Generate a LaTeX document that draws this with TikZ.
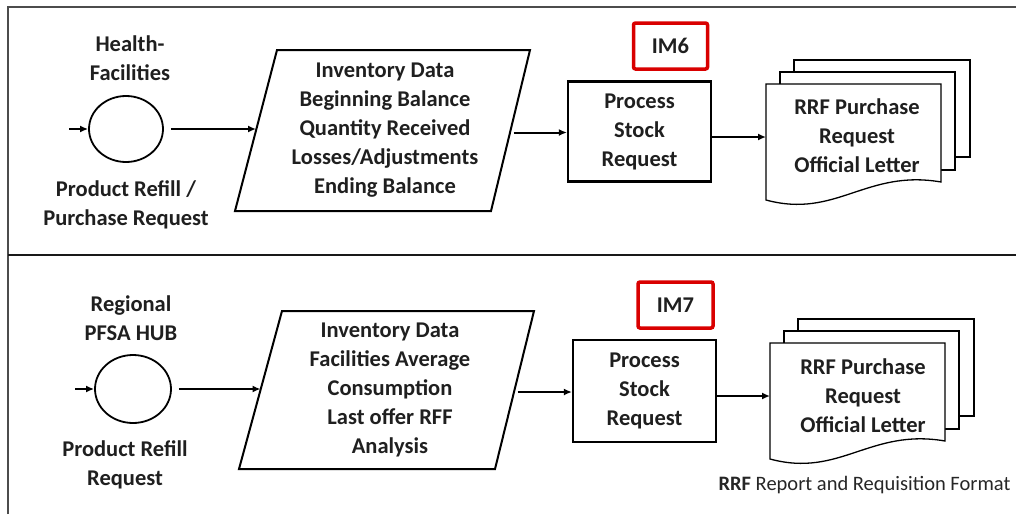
\documentclass[tikz,border=0pt]{standalone}
\usepackage{fontspec}
\setmainfont{Carlito}
\usetikzlibrary{arrows.meta,calc,shapes.geometric}
\tikzset{
  bigtxt/.style={font=\fontsize{22.5}{29}\selectfont\bfseries, align=center, text=black!88},
  hub/.style={draw, line width=1.8pt, ellipse, inner sep=0pt},
  procbox/.style={draw, line width=2.2pt, rectangle, inner sep=0pt, minimum width=143, minimum height=100},
  imtag/.style={draw=red!85!black, line width=3.5pt, rounded corners=2pt, inner sep=0pt, minimum width=74, minimum height=46},
  flow/.style={-{Latex[length=8pt,width=7pt]}, line width=2pt},
  sheet/.style={draw, fill=white, line width=1.3pt},
  slab/.style={draw, line width=2pt, line join=miter}
}
% three stacked pages, front one with a wavy bottom
\def\pagestack(#1,#2)(#3){%
  \begin{scope}[shift={(#1,#2)}]
    \draw[sheet] (28,-24) rectangle (204,73);
    \draw[sheet] (14,-12) rectangle (189,86);
    \draw[sheet] (0,0) -- (175,0) -- (175,98) .. controls (100,85) and (70,135) .. (0,116) -- cycle;
    \coordinate (#3) at (0,53);
  \end{scope}}

\begin{document}
\begin{tikzpicture}[x=1pt, y=-1pt]
			%%%%% START %%%%%
			\useasboundingbox (0,0) rectangle (1016,514);
			
			\draw[line width=1.5pt, black!70] (8,514) -- (8,7) -- (1016,7);
			\draw[line width=2.6pt, black!90] (8,255) -- (1016,255);
			
			%%%%% upper lane %%%%%
			\node[bigtxt] (hflabel) at (130,58) {Health-\\Facilities};
			\node[hub, minimum width=74, minimum height=66] (hf) at (126,129) {};
			\coordinate (hfsrc) at (69,129);
			\node[bigtxt] (hfreq) at (126,205) {Product Refill /\\Purchase Request};
			
			\coordinate (inv1tl) at (277,50);
			\coordinate (inv1tr) at (530,50);
			\coordinate (inv1br) at (491,211);
			\coordinate (inv1bl) at (235,211);
			\draw[slab] (inv1tl) -- (inv1tr) -- (inv1br) -- (inv1bl) -- cycle;
			\coordinate (inv1in) at ($(inv1tl)!0.5!(inv1bl)$);
			\coordinate (inv1out) at ($(inv1tr)!0.5!(inv1br)$);
			\node[bigtxt] (inv1) at (385,130) {Inventory Data\\Beginning Balance\\Quantity Received\\Losses/Adjustments\\Ending Balance};
			
			\node[procbox, bigtxt] (prc1) at (639.5,131.5) {Process\\Stock\\Request};
			\node[imtag, bigtxt] (im6) at (670.5,46) {IM6};
			
			\pagestack(766,84)(doc1in)
			\node[bigtxt] (doc1) at (857,136) {RRF Purchase\\Request\\Official Letter};
			
			\draw[flow] (hfsrc) -- (hf.west);
			\draw[flow, shorten <=7pt] (hf.east) -- (hf.east -| inv1in);
			\draw[flow] ($(inv1out)+(3,2)$) -- ($(inv1out -| prc1.west)+(0,2)$);
			\draw[flow] (prc1.east |- doc1in) -- (doc1in);
			
			%%%%% lower lane %%%%%
			\node[bigtxt] (hublabel) at (131,318) {Regional\\PFSA HUB};
			\node[hub, minimum width=76, minimum height=68] (hub) at (133,389) {};
			\coordinate (hubsrc) at (75,389);
			\node[bigtxt] (hubreq) at (125,465) {Product Refill\\Request};
			
			\coordinate (inv2tl) at (282,311);
			\coordinate (inv2tr) at (534,311);
			\coordinate (inv2br) at (495,469);
			\coordinate (inv2bl) at (239,469);
			\draw[slab] (inv2tl) -- (inv2tr) -- (inv2br) -- (inv2bl) -- cycle;
			\coordinate (inv2in) at ($(inv2tl)!0.5!(inv2bl)$);
			\coordinate (inv2out) at ($(inv2tr)!0.5!(inv2br)$);
			\node[bigtxt] (inv2) at (390,390) {Inventory Data\\Facilities Average\\Consumption\\Last offer RFF\\Analysis};
			
			\node[procbox, bigtxt, minimum height=102] (prc2) at (644.5,391) {Process\\Stock\\Request};
			\node[imtag, bigtxt, minimum width=75] (im7) at (675.5,305) {IM7};
			
			\pagestack(770,343)(doc2in)
			\node[bigtxt] (doc2) at (863,396) {RRF Purchase\\Request\\Official Letter};
			
			\draw[flow] (hubsrc) -- (hub.west);
			\draw[flow, shorten <=7pt] (hub.east) -- (hub.east -| inv2in);
			\draw[flow] ($(inv2out)+(3,2)$) -- ($(inv2out -| prc2.west)+(0,2)$);
			\draw[flow] (prc2.east |- doc2in) -- (doc2in);
			
			\node[font=\fontsize{20.5}{24}\selectfont, text=black!85, anchor=east] (rrfnote) at (1014,485) {\textbf{RRF} Report and Requisition Format};
			%%%%% END %%%%%
\end{tikzpicture}
\end{document}
